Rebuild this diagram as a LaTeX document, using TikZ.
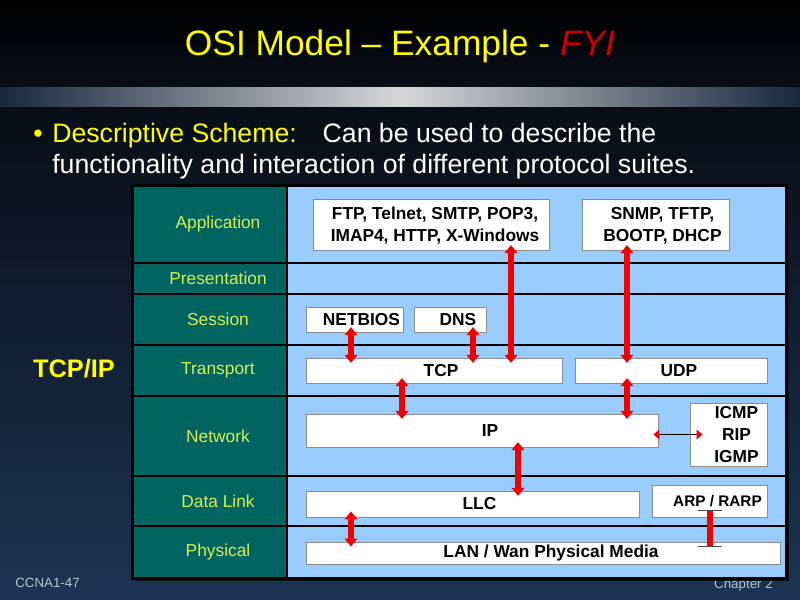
\documentclass[tikz,border=0pt]{standalone}
\usepackage{fontspec}
\setmainfont{Liberation Sans}
\usetikzlibrary{arrows.meta,fit,calc}
\definecolor{layerteal}{RGB}{0,100,96}
\definecolor{layerblue}{RGB}{153,204,255}
\definecolor{lblyellow}{RGB}{214,238,80}
\definecolor{titleyellow}{RGB}{255,255,0}
\definecolor{fyired}{RGB}{204,0,0}
\definecolor{arrred}{RGB}{240,0,0}
\definecolor{bgtop}{RGB}{0,0,0}
\definecolor{bgmid}{RGB}{8,13,22}
\definecolor{bgbot}{RGB}{29,52,82}
\definecolor{barlight}{RGB}{215,215,215}
\definecolor{bardark}{RGB}{24,40,62}
\definecolor{footgray}{RGB}{185,195,210}
\definecolor{shadowc}{RGB}{10,18,30}
\begin{document}
\begin{tikzpicture}[x=0.75pt,y=-0.75pt,
  cellL/.style={fill=layerteal, draw=black, line width=1.5pt, inner sep=0pt},
  cellR/.style={fill=layerblue, draw=black, line width=1.5pt, inner sep=0pt},
  lbl/.style={text=lblyellow, font=\fontsize{13}{15}\selectfont},
  pbox/.style={fill=white, draw=black!45, line width=0.7pt, inner sep=0pt},
  ptxt/.style={font=\bfseries\fontsize{13}{16.5}\selectfont, align=center, text=black},
  redarr/.style={draw=arrred, line width=3.8pt, {Triangle[width=9.5pt,length=6pt]}-{Triangle[width=9.5pt,length=6pt]}},
  overlap/.style={shorten <=-4pt, shorten >=-4pt},
  thinarr/.style={draw=black, line width=0.8pt, {Triangle[width=7.5pt,length=4.5pt,color=arrred]}-{Triangle[width=7.5pt,length=4.5pt,color=arrred]}}
]
\useasboundingbox (0,0) rectangle (800,600);
% background
\fill[top color=bgtop,bottom color=bgmid] (0,0) rectangle (800,87);
\fill[left color=bardark,right color=barlight] (0,87) rectangle (400.5,107);
\fill[left color=barlight,right color=bardark] (400,87) rectangle (800,107);
\fill[top color=bgmid,bottom color=bgbot] (0,107) rectangle (800,600);

% title
\node[anchor=base, text=titleyellow, font=\fontsize{26.5}{30}\selectfont] (title) at (400,55)
  {OSI Model – Example - \textcolor{fyired}{\textit{FYI}}};

% bullet text
\node[anchor=base, text=titleyellow, font=\fontsize{20}{23}\selectfont] (bullet) at (38,142) {•};
\node[anchor=base west, inner sep=0pt, text=white, font=\fontsize{20}{23}\selectfont] (line1) at (52,142)
  {\textcolor{titleyellow}{Descriptive Scheme:}\hspace{0.6em} Can be used to describe the};
\node[anchor=base west, inner sep=0pt, text=white, font=\fontsize{20}{23}\selectfont] (line2) at (52,173)
  {functionality and interaction of different protocol suites.};

% footer
\node[anchor=base west, inner sep=0pt, text=footgray, font=\fontsize{10}{12}\selectfont] (foot1) at (15,587) {CCNA1-47};
\node[anchor=base east, inner sep=0pt, text=footgray, font=\fontsize{10}{12}\selectfont] (foot2) at (773,588) {Chapter 2};

% TCP/IP
\node[anchor=base, text=titleyellow, font=\bfseries\fontsize{19}{22}\selectfont] (tcpip) at (74,377) {TCP/IP};

% table shadow
\fill[shadowc] (137,190) rectangle (789,581);

% layer cells
\node[cellL, fit={(133,186) (287,263)}] (Lapp) {};
\node[cellL, fit={(133,263) (287,294)}] (Lpre) {};
\node[cellL, fit={(133,294) (287,345)}] (Lses) {};
\node[cellL, fit={(133,345) (287,396)}] (Ltra) {};
\node[cellL, fit={(133,396) (287,476)}] (Lnet) {};
\node[cellL, fit={(133,476) (287,526)}] (Ldl) {};
\node[cellL, fit={(133,526) (287,578)}] (Lphy) {};
\node[cellR, fit={(287,186) (786,263)}] (Rapp) {};
\node[cellR, fit={(287,263) (786,294)}] (Rpre) {};
\node[cellR, fit={(287,294) (786,345)}] (Rses) {};
\node[cellR, fit={(287,345) (786,396)}] (Rtra) {};
\node[cellR, fit={(287,396) (786,476)}] (Rnet) {};
\node[cellR, fit={(287,476) (786,526)}] (Rdl) {};
\node[cellR, fit={(287,526) (786,578)}] (Rphy) {};
\draw[black, line width=2pt] (Lapp.north west) rectangle (Rphy.south east);

% layer labels
\node[lbl] (tApp) at ($(Lapp.center)+(8,0)$) {Application};
\node[lbl] (tPre) at ($(Lpre.center)+(8,0)$) {Presentation};
\node[lbl] (tSes) at ($(Lses.center)+(8,0)$) {Session};
\node[lbl] (tTra) at ($(Ltra.center)+(8,0)$) {Transport};
\node[lbl] (tNet) at ($(Lnet.center)+(8,0)$) {Network};
\node[lbl] (tDl) at ($(Ldl.center)+(8,0)$) {Data Link};
\node[lbl] (tPhy) at ($(Lphy.center)+(8,0)$) {Physical};

% protocol boxes
\node[pbox, fit={(313,199) (549,250)}] (ftp) {};
\node[pbox, fit={(582,199) (729,250)}] (snmp) {};
\node[pbox, fit={(306,307) (403,332)}] (netbios) {};
\node[pbox, fit={(414,307) (486,332)}] (dns) {};
\node[pbox, fit={(306,358) (562,383)}] (tcp) {};
\node[pbox, fit={(575,358) (767,383)}] (udp) {};
\node[pbox, fit={(306,414) (658,447)}] (ip) {};
\node[pbox, fit={(690,403) (767,466)}] (icmp) {};
\node[pbox, fit={(306,491) (639,517)}] (llc) {};
\node[pbox, fit={(652,485) (767,517)}] (arp) {};
\node[pbox, fit={(306,542) (780,564)}] (lan) {};

\node[ptxt] (tftp) at ($(ftp.center)+(4,1)$) {FTP, Telnet, SMTP, POP3,\\IMAP4, HTTP, X-Windows};
\node[ptxt] (tsnmp) at ($(snmp.center)+(7,1)$) {SNMP, TFTP,\\BOOTP, DHCP};
\node[ptxt] (tnetbios) at ($(netbios.center)+(7,0)$) {NETBIOS};
\node[ptxt] (tdns) at ($(dns.center)+(8,0)$) {DNS};
\node[ptxt] (ttcp) at ($(tcp.center)+(7,0)$) {TCP};
\node[ptxt] (tudp) at ($(udp.center)+(8,0)$) {UDP};
\node[ptxt] (tip) at ($(ip.center)+(8,0)$) {IP};
\node[ptxt] (ticmp) at ($(icmp.center)+(8,0)$) {ICMP\\RIP\\IGMP};
\node[ptxt] (tllc) at ($(llc.center)+(7,0)$) {LLC};
\node[ptxt, font=\bfseries\fontsize{11.5}{14}\selectfont] (tarp) at ($(arp.center)+(8,0)$) {ARP / RARP};
\node[ptxt] (tlan) at ($(lan.center)+(8,0)$) {LAN / Wan Physical Media};

% arrow x positions
\coordinate (xNB) at (351,0);
\coordinate (xDNS) at (473,0);
\coordinate (xFTP) at (511,0);
\coordinate (xSNMP) at (627,0);
\coordinate (xTCP) at (402,0);
\coordinate (xIP) at (518,0);
\coordinate (xARP) at (710,0);

\draw[redarr, overlap] (netbios.south -| xNB) -- (tcp.north -| xNB);
\draw[redarr, overlap] (dns.south -| xDNS) -- (tcp.north -| xDNS);
\draw[redarr, overlap] (ftp.south -| xFTP) -- (tcp.north -| xFTP);
\draw[redarr, overlap] (snmp.south -| xSNMP) -- (udp.north -| xSNMP);
\draw[redarr, overlap] (tcp.south -| xTCP) -- (ip.north -| xTCP);
\draw[redarr, overlap] (udp.south -| xSNMP) -- (ip.north -| xSNMP);
\draw[redarr, overlap] (ip.south -| xIP) -- (llc.north -| xIP);
\draw[redarr] ($(llc.south -| xNB)+(0,-6)$) -- ($(lan.north -| xNB)+(0,5)$);
\draw[thinarr] ($(ip.east |- icmp.west)+(-5,0)$) -- ($(icmp.west)+(13,0)$);

\draw[arrred, line width=5pt] ($(arp.south -| xARP)+(0,-7)$) coordinate (arpT) -- ($(lan.north -| xARP)+(0,5)$) coordinate (arpB);
\draw[black!70, line width=0.7pt] ($(arpT)+(-12,0)$) -- ($(arpT)+(12,0)$);
\draw[black!70, line width=0.7pt] ($(arpB)+(-12,0)$) -- ($(arpB)+(12,0)$);
\end{tikzpicture}
\end{document}
